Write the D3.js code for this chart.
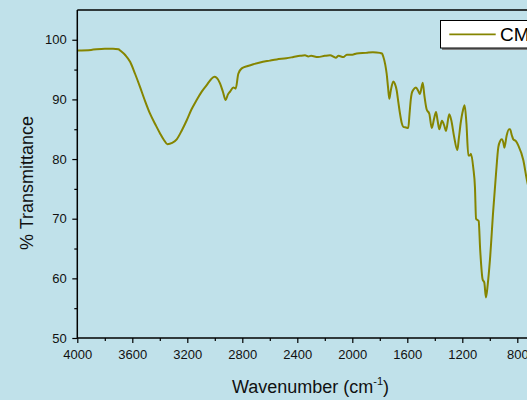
<!DOCTYPE html>
<html>
<head>
<meta charset="utf-8">
<script src="https://cdn.jsdelivr.net/npm/d3@7"></script>
<style>
  html, body { margin: 0; padding: 0; background: #c0e1ea; overflow: hidden; }
  svg { display: block; }
</style>
</head>
<body>
<div id="chart"></div>
<script>

// FTIR spectrum
var wavenumber = [4000, 3900, 3800, 3740, 3700, 3689, 3650, 3616, 3580, 3544, 3510, 3471, 3430, 3398, 3370, 3345,
    3310, 3277, 3240, 3204, 3170, 3132, 3095, 3059, 3030, 3004, 2985, 2962, 2940, 2921, 2905, 2889, 2865, 2848,
    2829, 2804, 2760, 2720, 2671, 2600, 2550, 2480, 2429, 2380, 2344, 2320, 2300, 2250, 2200, 2162, 2120, 2100,
    2065, 2040, 2000, 1968, 1900, 1850, 1799, 1785, 1775, 1760, 1750, 1740, 1731, 1720, 1702, 1690, 1677, 1665,
    1653, 1640, 1629, 1610, 1593, 1584, 1575, 1568, 1556, 1537, 1520, 1508, 1488, 1475, 1459, 1440, 1422, 1405,
    1391, 1380, 1367, 1348, 1330, 1319, 1295, 1280, 1260, 1236, 1225, 1212, 1195, 1183, 1170, 1156, 1145, 1137,
    1120, 1108, 1100, 1081, 1070, 1052, 1040, 1028, 1015, 999, 975, 955, 938, 925, 913, 900, 894, 877, 860, 853,
    840, 829, 810, 793, 756, 732, 700, 650];

var transmittance = [98.2, 98.3, 98.5, 98.5, 98.4, 98.2, 97.4, 96.3, 94.3, 92.1, 89.9, 87.6, 85.7, 84.3, 83.2, 82.5,
    82.7, 83.3, 84.8, 86.5, 88.3, 89.9, 91.3, 92.4, 93.3, 93.8, 93.6, 92.7, 91.2, 89.9, 90.8, 91.3, 92.0, 91.8,
    94.3, 95.2, 95.6, 95.9, 96.2, 96.5, 96.7, 96.9, 97.1, 97.3, 97.4, 97.2, 97.3, 97.1, 97.3, 97.4, 97.0, 97.3,
    97.1, 97.5, 97.5, 97.7, 97.8, 97.9, 97.8, 97.7, 97.2, 95.8, 94.3, 92.0, 90.1, 91.5, 93.0, 92.6, 91.5, 89.5,
    87.6, 86.0, 85.4, 85.3, 85.2, 87.5, 89.9, 91.0, 91.6, 92.0, 91.4, 90.9, 92.8, 90.5, 88.3, 87.6, 85.2, 86.8,
    87.9, 86.5, 85.0, 86.4, 85.5, 84.7, 87.5, 86.5, 83.8, 81.5, 83.5, 86.0, 88.2, 89.0, 86.0, 80.6, 80.6, 80.9,
    78.5, 75.3, 70.0, 69.6, 64.8, 59.8, 59.3, 56.8, 59.0, 63.1, 71.4, 77.5, 82.0, 83.0, 83.3, 82.6, 81.9, 84.0, 85.0, 85.0,
    84.0, 83.3, 83.0, 82.3, 79.8, 76.7, 73.5, 70.0];

var xTicks = [4000, 3600, 3200, 2800, 2400, 2000, 1600, 1200, 800, 400];
var xMinorTicks = [3800, 3400, 3000, 2600, 2200, 1800, 1400, 1000, 600];
var yTicks = [50, 60, 70, 80, 90, 100];
var yMinorTicks = [55, 65, 75, 85, 95];
var seriesName = "CMC";

var width = 527;
var height = 400;

var x = d3.scaleLinear().domain([4000, 400]).range([77.3, 77.3 + 3600 * 0.1375]);
var y = d3.scaleLinear().domain([50, 105]).range([338, 338 - 55 * 5.965]);

var svg = d3.select("#chart").append("svg")
    .attr("width", width)
    .attr("height", height)
    .style("font-family", "Arial, 'Liberation Sans', sans-serif");

svg.append("defs").append("clipPath").attr("id", "plotClip")
    .append("rect")
    .attr("x", x(4000)).attr("y", y(105))
    .attr("width", x(400) - x(4000)).attr("height", y(50) - y(105));

// spectrum
var points = wavenumber.map(function (d, i) { return [d, transmittance[i]]; });

var line = d3.line()
    .x(function (d) { return x(d[0]); })
    .y(function (d) { return y(d[1]); })
    .curve(d3.curveMonotoneX);

svg.append("path")
    .datum(points)
    .attr("clip-path", "url(#plotClip)")
    .attr("fill", "none")
    .attr("stroke", "#858500")
    .attr("stroke-width", 2)
    .attr("stroke-linejoin", "round")
    .attr("d", line);

// frame top / right
svg.append("line")
    .attr("x1", x(4000)).attr("x2", x(400))
    .attr("y1", y(105)).attr("y2", y(105))
    .attr("stroke", "#000").attr("stroke-width", 1.5);
svg.append("line")
    .attr("x1", x(400)).attr("x2", x(400))
    .attr("y1", y(105)).attr("y2", y(50))
    .attr("stroke", "#000").attr("stroke-width", 1.5);

// x axis
var xAxis = svg.append("g")
    .attr("transform", "translate(0," + y(50) + ")")
    .call(d3.axisBottom(x).tickValues(xTicks).tickSize(5).tickPadding(7).tickFormat(d3.format("d")));

svg.append("g")
    .attr("transform", "translate(0," + y(50) + ")")
    .call(d3.axisBottom(x).tickValues(xMinorTicks).tickSize(3).tickFormat(""))
    .select(".domain").remove();

// y axis
var yAxis = svg.append("g")
    .attr("transform", "translate(" + x(4000) + ",0)")
    .call(d3.axisLeft(y).tickValues(yTicks).tickSize(5).tickPadding(5.5).tickFormat(d3.format("d")));

svg.append("g")
    .attr("transform", "translate(" + x(4000) + ",0)")
    .call(d3.axisLeft(y).tickValues(yMinorTicks).tickSize(3).tickFormat(""))
    .select(".domain").remove();

svg.selectAll(".domain").attr("stroke-width", 1.5);
xAxis.select(".domain").attr("d", "M" + x(4000) + ",0H" + x(400));
yAxis.select(".domain").attr("d", "M0," + y(50) + "V" + y(105));

svg.selectAll(".tick line").attr("stroke-width", 1.2);
svg.selectAll(".tick text").attr("font-size", 13).attr("fill", "#111")
    .style("font-family", "Arial, 'Liberation Sans', sans-serif");

// axis titles
var xTitle = svg.append("text")
    .attr("x", 310.5).attr("y", 393)
    .attr("text-anchor", "middle")
    .attr("font-size", 18)
    .attr("fill", "#111");
xTitle.append("tspan").text("Wavenumber (cm");
xTitle.append("tspan").attr("font-size", 11).attr("dy", -8).text("-1");
xTitle.append("tspan").attr("dy", 8).text(")");

svg.append("text")
    .attr("transform", "translate(33,183) rotate(-90)")
    .attr("text-anchor", "middle")
    .attr("font-size", 18)
    .attr("fill", "#111")
    .text("% Transmittance");

// legend
var legend = svg.append("g");
legend.append("rect")
    .attr("x", 442).attr("y", 22).attr("width", 120).attr("height", 28)
    .attr("fill", "#7f7f7f");
legend.append("rect")
    .attr("x", 440.5).attr("y", 20.5).attr("width", 120).attr("height", 27.5)
    .attr("fill", "#fff").attr("stroke", "#000").attr("stroke-width", 1);
legend.append("line")
    .attr("x1", 449.3).attr("x2", 495.7).attr("y1", 34.3).attr("y2", 34.3)
    .attr("stroke", "#858500").attr("stroke-width", 1.8);
legend.append("text")
    .attr("x", 500).attr("y", 40.7)
    .attr("font-size", 19)
    .attr("fill", "#000")
    .text(seriesName);

</script>
</body>
</html>
